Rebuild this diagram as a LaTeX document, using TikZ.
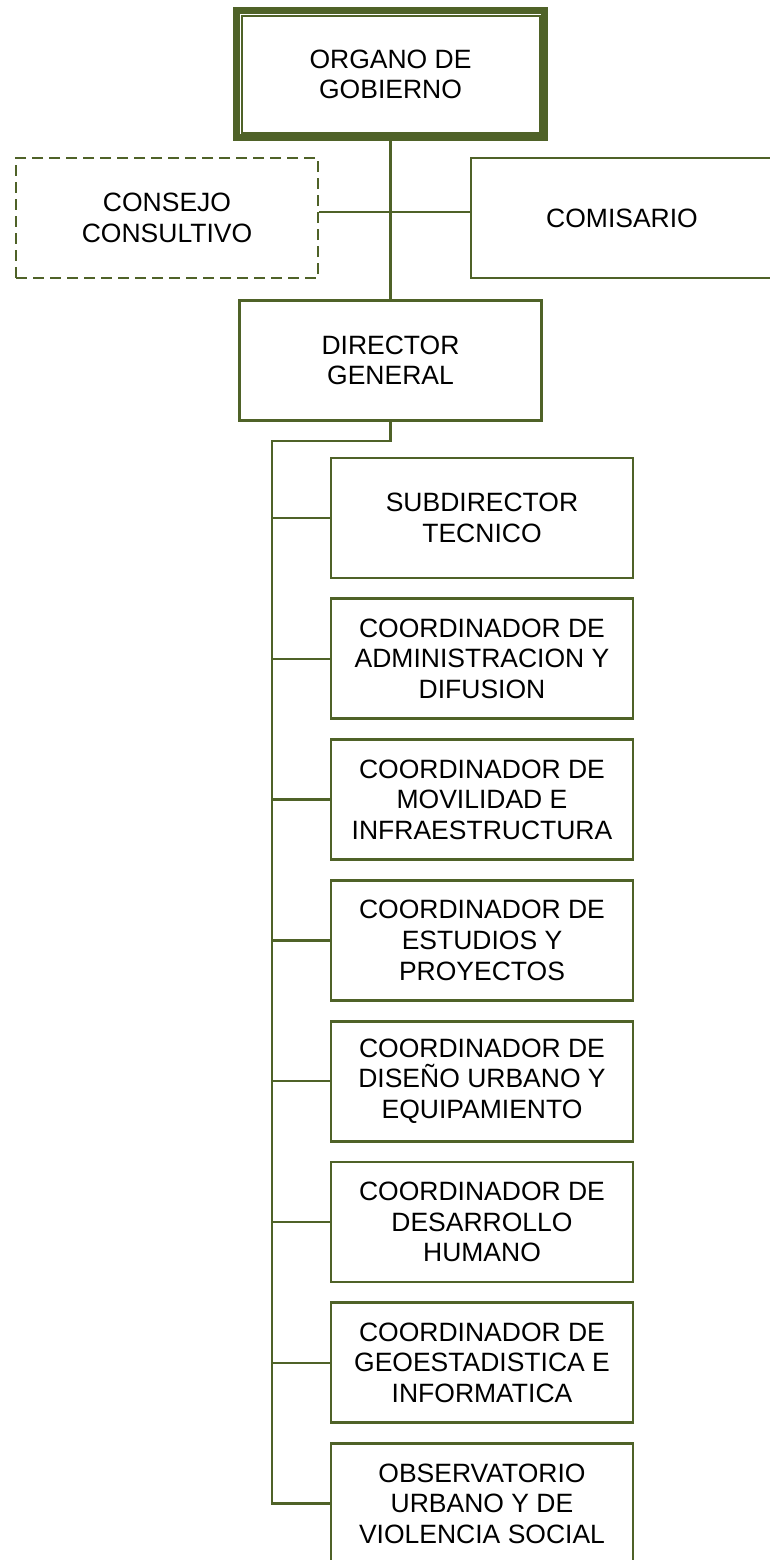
\documentclass[tikz,border=0pt]{standalone}
\usepackage{fontspec}
\setmainfont{Liberation Sans}
\usetikzlibrary{positioning}
\definecolor{orgolive}{RGB}{79,98,40}
\tikzset{
  unit/.style={draw=orgolive, line width=2.8pt, minimum width=302pt, minimum height=120pt,
    inner sep=0pt, align=center, font=\fontsize{26.5}{30.7}\selectfont},
  link/.style={draw=orgolive, line width=2.5pt}
}
\begin{document}
\begin{tikzpicture}[x=1pt, y=-1pt, node distance=18pt]
\useasboundingbox (0,0) rectangle (769,1560);

\node[unit, line width=7pt, minimum width=308pt, minimum height=127pt] (gob) at (390.5,74.5) {ORGANO DE\\GOBIERNO};
\draw[orgolive, line width=2pt] ([xshift=8.5pt, yshift=-8.5pt]gob.north west) rectangle ([xshift=-8.5pt, yshift=8.5pt]gob.south east);

\node[unit, dashed, dash pattern=on 11pt off 6pt] (cons) at (167,218) {CONSEJO\\CONSULTIVO};
\node[unit] (com) at (622,218) {COMISARIO};
\node[unit] (dg) at (390.5,360.5) {DIRECTOR\\GENERAL};

\node[unit] (sub) at (482,518) {SUBDIRECTOR\\TECNICO};
\node[unit, below=of sub] (adm) {COORDINADOR DE\\ADMINISTRACION Y\\DIFUSION};
\node[unit, below=of adm] (mov) {COORDINADOR DE\\MOVILIDAD E\\INFRAESTRUCTURA};
\node[unit, below=of mov] (est) {COORDINADOR DE\\ESTUDIOS Y\\PROYECTOS};
\node[unit, below=of est] (dis) {COORDINADOR DE\\DISEÑO URBANO Y\\EQUIPAMIENTO};
\node[unit, below=of dis] (des) {COORDINADOR DE\\DESARROLLO\\HUMANO};
\node[unit, below=of des] (geo) {COORDINADOR DE\\GEOESTADISTICA E\\INFORMATICA};
\node[unit, below=of geo] (obs) {OBSERVATORIO\\URBANO Y DE\\VIOLENCIA SOCIAL};

% upper part
\draw[link] (gob.south) -- (dg.north);
\draw[link] ([yshift=6pt]cons.east) -- ([yshift=6pt]com.west);

% trunk and branches
\coordinate (tr) at (272,441);
\draw[link] (dg.south) |- (tr) -- (tr |- obs.west) -- (obs.west);
\foreach \n in {sub,adm,mov,est,dis,des,geo}
  \draw[link] (tr |- \n.west) -- (\n.west);
\end{tikzpicture}
\end{document}
